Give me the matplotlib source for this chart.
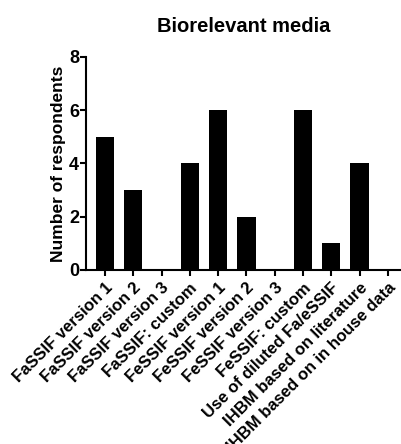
import matplotlib.pyplot as plt

plt.rcParams['font.family'] = ['Liberation Sans', 'DejaVu Sans']
plt.rcParams['font.weight'] = 'bold'

# categorias y numero de respuestas
categorias = ["FaSSIF version 1", "FaSSIF version 2", "FaSSIF version 3", "FaSSIF: custom",
              "FeSSIF version 1", "FeSSIF version 2", "FeSSIF version 3", "FeSSIF: custom",
              "Use of diluted Fa/eSSIF", "IHBM based on literature", "IHBM based on in house data"]
respuestas = [5, 3, 0, 4, 6, 2, 0, 6, 1, 4, 0]

fig = plt.figure(figsize=(4.02, 4.44), dpi=100)
ax = fig.add_axes([0.214, 0.392, 0.786, 0.48])

x = range(len(categorias))
ax.bar(x, respuestas, width=0.65, color="black")

ax.set_xlim(-0.67, 10.5)
ax.set_ylim(0, 8)
ax.set_yticks([0, 2, 4, 6, 8])
ax.set_xticks(list(x))
ax.set_xticklabels(categorias, rotation=45, ha="right", rotation_mode="anchor", fontsize=12)
ax.tick_params(axis="y", labelsize=13, width=1.5, length=4, pad=1)
ax.tick_params(axis="x", width=1.5, length=4)
ax.spines["top"].set_visible(False)
ax.spines["right"].set_visible(False)
ax.spines["left"].set_linewidth(1.5)
ax.spines["bottom"].set_linewidth(1.5)

ax.set_ylabel("Number of respondents", fontsize=12.5, fontweight="bold", labelpad=2)
ax.set_title("Biorelevant media", fontsize=14.5, fontweight="bold", pad=18)

fig.savefig("out.png", dpi=100)
